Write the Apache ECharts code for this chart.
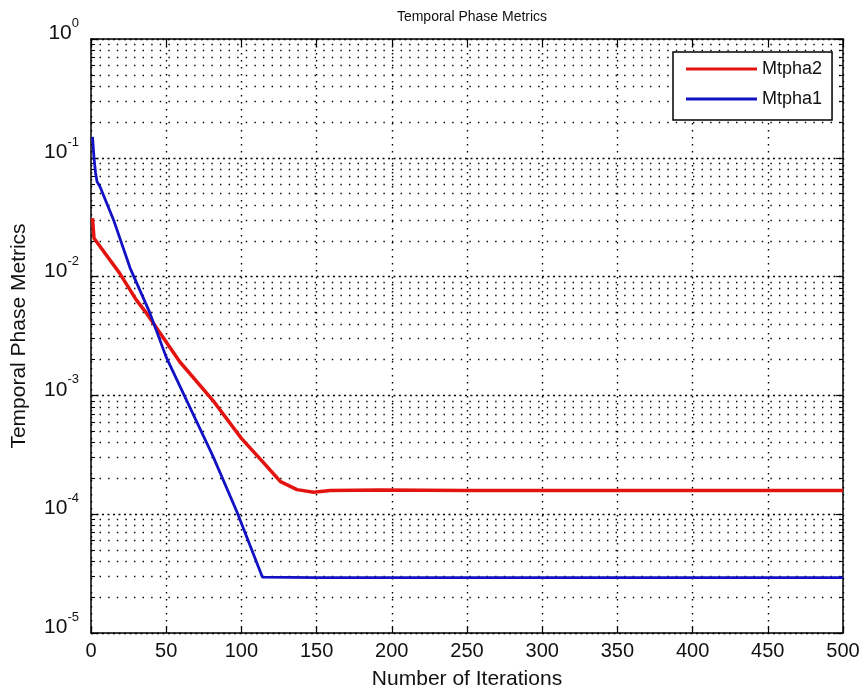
<!DOCTYPE html>
<html>
<head>
<meta charset="utf-8">
<title>Temporal Phase Metrics</title>
<script src="https://cdn.jsdelivr.net/npm/echarts@6/dist/echarts.min.js"></script>
<style>
  html, body { margin: 0; padding: 0; background: #ffffff; }
  #chart { width: 865px; height: 698px; }
</style>
</head>
<body>
<div id="chart"></div>
<script>
// Metric traces per iteration
const mtpha2Iter = [1, 2, 19, 30, 37, 59, 81, 100, 115, 121, 126, 137, 148, 159, 192, 250, 300, 350, 400, 450, 500];
const mtpha2Vals = [0.031, 0.021, 0.0107, 0.0064, 0.0049, 0.00192, 0.00091, 0.000435, 0.000269, 0.000221, 0.000188,
                    0.000161, 0.000153, 0.000158, 0.00016, 0.000158, 0.000158, 0.000158, 0.000158, 0.000158, 0.000158];

const mtpha1Iter = [1, 2, 3, 4, 6, 15, 26, 39, 50, 66, 81, 97, 114, 150, 200, 250, 300, 350, 400, 450, 500];
const mtpha1Vals = [0.15, 0.10, 0.075, 0.063, 0.057, 0.030, 0.0118, 0.0050, 0.0021, 0.00078, 0.00031,
                    0.000105, 0.0000295, 0.0000293, 0.0000293, 0.0000293, 0.0000293, 0.0000293, 0.0000293, 0.0000293, 0.0000293];

const xTicks = [0, 50, 100, 150, 200, 250, 300, 350, 400, 450, 500];
const yDecades = [1e-5, 1e-4, 1e-3, 1e-2, 1e-1, 1];

const FONT = '"Liberation Sans", Arial, sans-serif';

function pairs(xs, ys) {
  return xs.map((x, i) => [x, ys[i]]);
}

const chart = echarts.init(document.getElementById('chart'), null, { renderer: 'canvas' });

// "10" with the exponent raised as a superscript
const tickLabelY = function (v) {
  const e = Math.round(Math.log10(v));
  return '{b|10}{e|' + e + '}';
};

const option = {
  backgroundColor: '#ffffff',
  animation: false,
  title: {
    text: 'Temporal Phase Metrics',
    left: 467,
    textAlign: 'center',
    top: 5,
    textStyle: { fontFamily: FONT, fontSize: 14, fontWeight: 'normal', color: '#111' }
  },
  legend: {
    data: ['Mtpha2', 'Mtpha1'],
    orient: 'vertical',
    left: 673,
    top: 52,
    icon: 'rect',
    itemWidth: 71,
    itemHeight: 3,
    itemGap: 12,
    padding: [8, 10, 12, 13],
    borderColor: '#000',
    borderWidth: 1.5,
    backgroundColor: '#fff',
    textStyle: { fontFamily: FONT, fontSize: 18, color: '#111' }
  },
  grid: { left: 91, right: 22, top: 39, bottom: 65, containLabel: false },
  xAxis: [{
    type: 'value',
    min: xTicks[0],
    max: xTicks[xTicks.length - 1],
    interval: 50,
    name: 'Number of Iterations',
    nameLocation: 'middle',
    nameGap: 36,
    nameTextStyle: { fontFamily: FONT, fontSize: 21, color: '#111' },
    axisLine: { show: true, lineStyle: { color: '#000', width: 1.5 } },
    axisTick: { show: true, inside: true, length: 7, lineStyle: { color: '#000', width: 1.2 } },
    axisLabel: { fontFamily: FONT, fontSize: 20, color: '#111', margin: 8 },
    splitLine: { show: true, lineStyle: { color: '#000', width: 1.4, type: [1.4, 5.6] } }
  }, {
    type: 'value',
    position: 'top',
    min: xTicks[0],
    max: xTicks[xTicks.length - 1],
    interval: 50,
    axisLine: { show: true, onZero: false, lineStyle: { color: '#000', width: 1.5 } },
    axisTick: { show: true, inside: true, length: 7, lineStyle: { color: '#000', width: 1.2 } },
    axisLabel: { show: false },
    splitLine: { show: false }
  }],
  yAxis: [{
    type: 'log',
    logBase: 10,
    min: yDecades[0],
    max: yDecades[yDecades.length - 1],
    name: 'Temporal Phase Metrics',
    nameLocation: 'middle',
    nameGap: 61,
    nameTextStyle: { fontFamily: FONT, fontSize: 21, color: '#111' },
    axisLine: { show: true, lineStyle: { color: '#000', width: 1.5 } },
    axisTick: { show: true, inside: true, length: 7, lineStyle: { color: '#000', width: 1.2 } },
    minorTick: { show: true, splitNumber: 9, length: 4, lineStyle: { color: '#000', width: 1 } },
    axisLabel: {
      formatter: tickLabelY,
      margin: 12,
      padding: [0, 0, 11, 0],
      rich: {
        b: { fontFamily: FONT, fontSize: 21, lineHeight: 21, color: '#111', verticalAlign: 'bottom' },
        e: { fontFamily: FONT, fontSize: 13, lineHeight: 13, color: '#111', verticalAlign: 'bottom', padding: [0, 0, 14, 0] }
      }
    },
    splitLine: { show: true, lineStyle: { color: '#000', width: 1.4, type: [2, 3.5] } },
    minorSplitLine: { show: true, lineStyle: { color: '#000', width: 1.4, type: [1.4, 7.2] } }
  }, {
    type: 'log',
    logBase: 10,
    position: 'right',
    min: yDecades[0],
    max: yDecades[yDecades.length - 1],
    axisLine: { show: true, onZero: false, lineStyle: { color: '#000', width: 1.5 } },
    axisTick: { show: true, inside: true, length: 7, lineStyle: { color: '#000', width: 1.2 } },
    minorTick: { show: true, splitNumber: 9, length: 4, lineStyle: { color: '#000', width: 1 } },
    axisLabel: { show: false },
    splitLine: { show: false },
    minorSplitLine: { show: false }
  }],
  series: [{
    name: 'Mtpha2',
    type: 'line',
    xAxisIndex: 0,
    yAxisIndex: 0,
    showSymbol: false,
    symbol: 'none',
    color: '#e3140f',
    lineStyle: { color: '#e3140f', width: 3.5 },
    data: pairs(mtpha2Iter, mtpha2Vals),
    z: 3
  }, {
    name: 'Mtpha1',
    type: 'line',
    xAxisIndex: 0,
    yAxisIndex: 0,
    showSymbol: false,
    symbol: 'none',
    color: '#1212c4',
    lineStyle: { color: '#1212c4', width: 2.8 },
    data: pairs(mtpha1Iter, mtpha1Vals),
    z: 4
  }]
};

chart.setOption(option);
</script>
</body>
</html>
